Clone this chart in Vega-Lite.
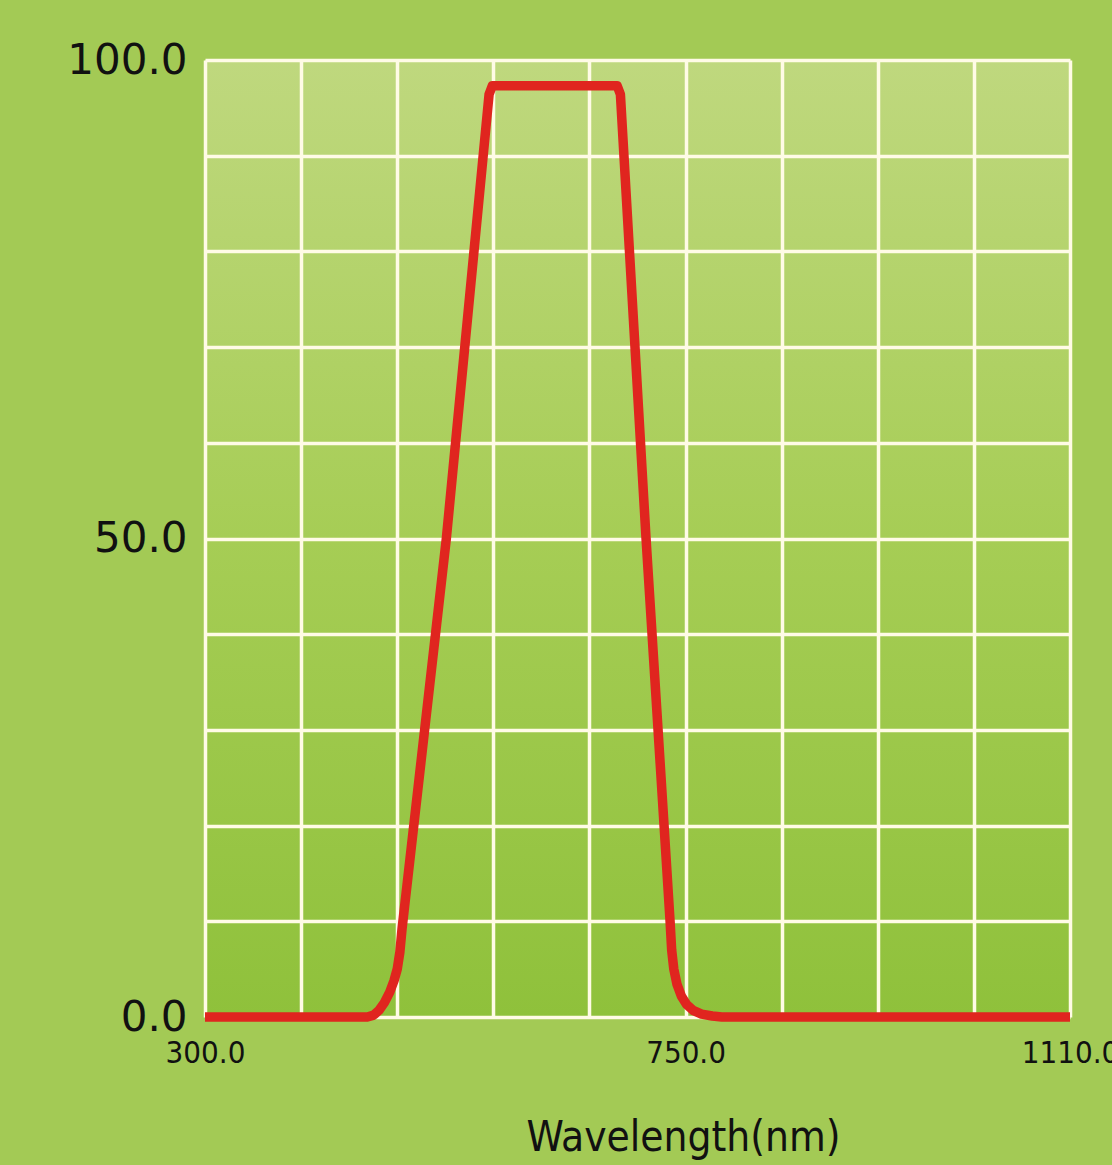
{
  "$schema": "https://vega.github.io/schema/vega-lite/v6.json",
  "width": 865,
  "height": 957,
  "autosize": {"type": "none"},
  "padding": {"left": 205, "top": 60, "right": 42, "bottom": 148},
  "background": "#a3ca55",
  "config": {
    "view": {
      "stroke": null,
      "fill": {
        "gradient": "linear",
        "x1": 0, "y1": 0, "x2": 0, "y2": 1,
        "stops": [
          {"offset": 0, "color": "#bfd87e"},
          {"offset": 0.5, "color": "#a6cd55"},
          {"offset": 1, "color": "#8fc13b"}
        ]
      }
    },
    "axis": {"labelFont": "DejaVu Sans", "titleFont": "DejaVu Sans Condensed, Liberation Sans Narrow, Roboto, sans-serif", "labelColor": "#111111", "titleColor": "#111111"}
  },
  "data": {
    "values": [
      {"wavelength": 300, "T": 0},
      {"wavelength": 452, "T": 0},
      {"wavelength": 458, "T": 0.2},
      {"wavelength": 463, "T": 0.7},
      {"wavelength": 468, "T": 1.5},
      {"wavelength": 473, "T": 2.6},
      {"wavelength": 477, "T": 3.8},
      {"wavelength": 480, "T": 5.0},
      {"wavelength": 482.5, "T": 6.8},
      {"wavelength": 484.5, "T": 9.2},
      {"wavelength": 526, "T": 50},
      {"wavelength": 566, "T": 96.4},
      {"wavelength": 569, "T": 97.3},
      {"wavelength": 686, "T": 97.3},
      {"wavelength": 689, "T": 96.4},
      {"wavelength": 713, "T": 50},
      {"wavelength": 735.5, "T": 10},
      {"wavelength": 737, "T": 7},
      {"wavelength": 739, "T": 5},
      {"wavelength": 742, "T": 3.4},
      {"wavelength": 746, "T": 2.2},
      {"wavelength": 751, "T": 1.3},
      {"wavelength": 757, "T": 0.7},
      {"wavelength": 765, "T": 0.3},
      {"wavelength": 775, "T": 0.1},
      {"wavelength": 784, "T": 0},
      {"wavelength": 1110, "T": 0}
    ]
  },
  "mark": {"type": "line", "color": "#e0251f", "strokeWidth": 9.5, "strokeJoin": "round", "strokeCap": "butt", "clip": false, "interpolate": "linear"},
  "encoding": {
    "x": {
      "field": "wavelength",
      "type": "quantitative",
      "scale": {"domain": [300, 1110], "nice": false, "zero": false},
      "axis": {
        "values": [300, 390, 480, 570, 660, 750, 840, 930, 1020, 1110],
        "labelExpr": "datum.value == 300 || datum.value == 750 || datum.value == 1110 ? format(datum.value, '.1f') : ''",
        "grid": true,
        "gridColor": "#fffbe6",
        "gridWidth": 3.5,
        "gridOpacity": 1,
        "domain": false,
        "ticks": false,
        "labelFont": "DejaVu Sans Condensed, Liberation Sans Narrow, Roboto, sans-serif",
        "labelFontSize": 31,
        "labelPadding": 21,
        "labelFlush": false,
        "labelOverlap": false,
        "labelAlign": "center",
        "title": "Wavelength(nm)",
        "titleFontSize": 42,
        "titleFontWeight": "normal",
        "titleX": 478,
        "titleY": 133,
        "titleBaseline": "alphabetic"
      }
    },
    "y": {
      "field": "T",
      "type": "quantitative",
      "scale": {"domain": [0, 100], "nice": false},
      "axis": {
        "values": [0, 10, 20, 30, 40, 50, 60, 70, 80, 90, 100],
        "labelExpr": "datum.value == 0 || datum.value == 50 || datum.value == 100 ? format(datum.value, '.1f') : ''",
        "grid": true,
        "gridColor": "#fffbe6",
        "gridWidth": 3.5,
        "gridOpacity": 1,
        "domain": false,
        "ticks": false,
        "labelFontSize": 42,
        "labelPadding": 18,
        "labelBaseline": "middle",
        "labelOverlap": false,
        "labelFlush": false,
        "title": null
      }
    }
  }
}
